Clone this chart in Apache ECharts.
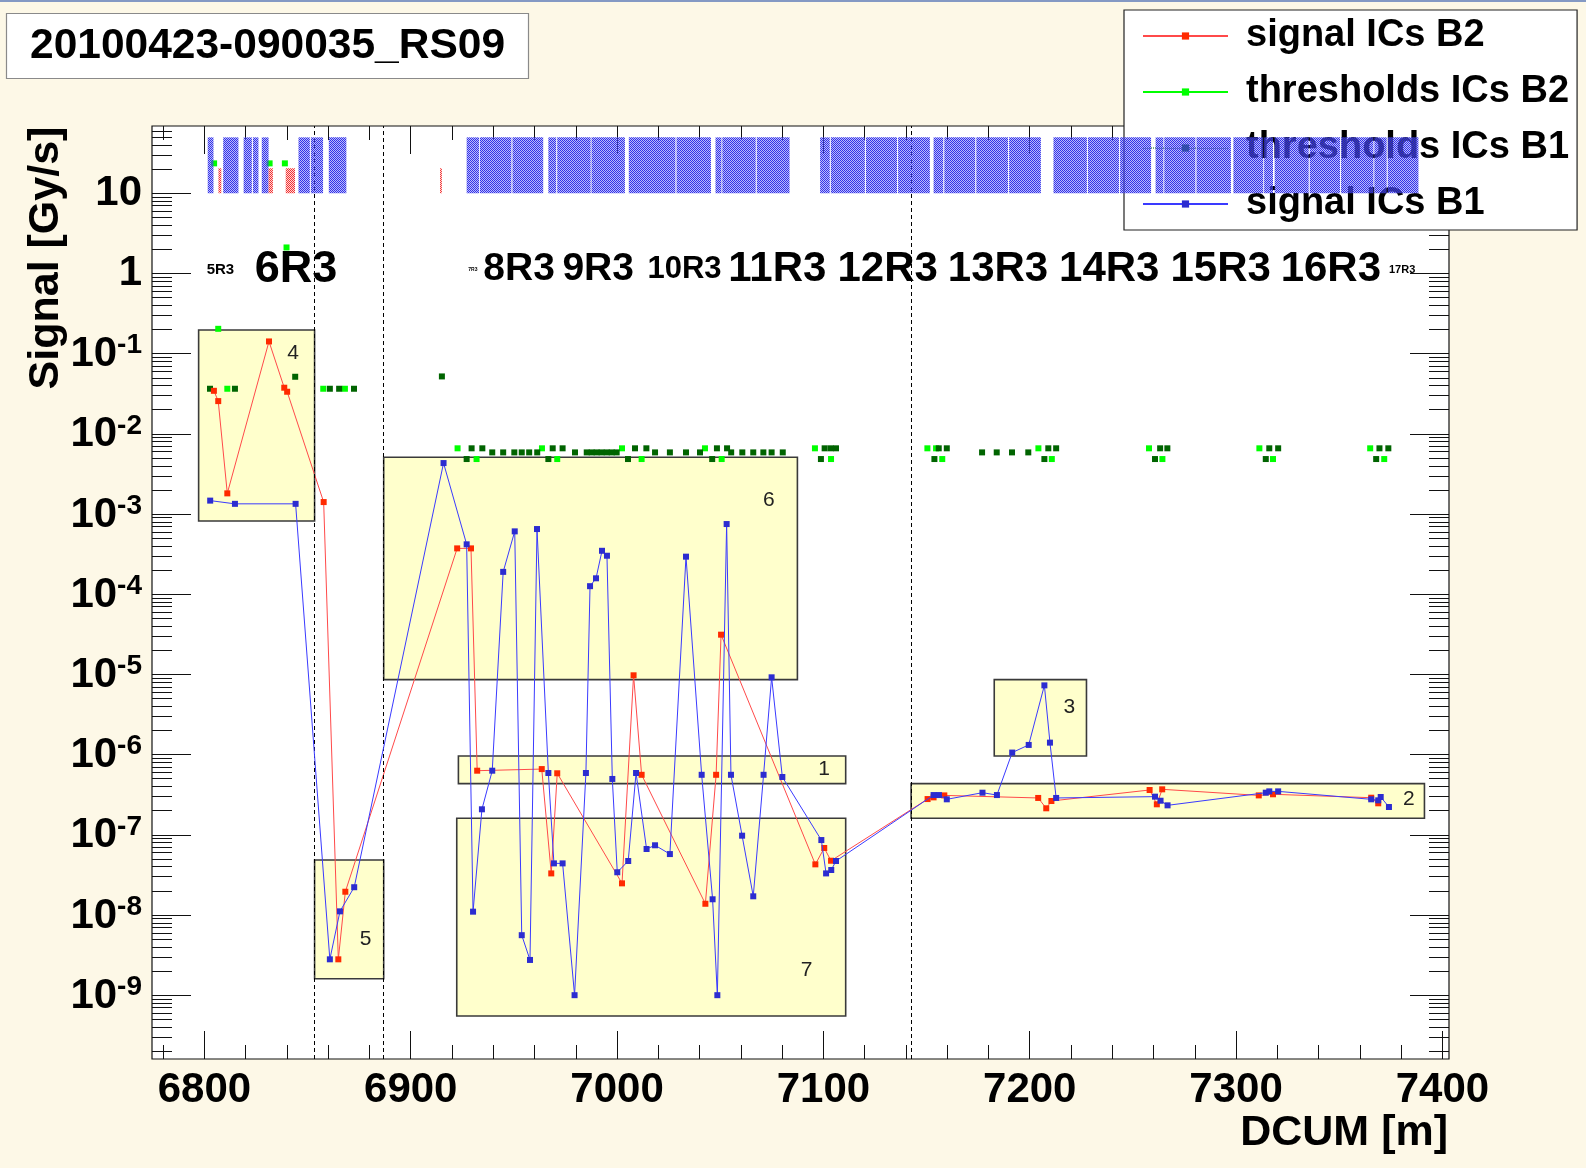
<!DOCTYPE html>
<html>
<head>
<meta charset="utf-8">
<title>20100423-090035_RS09</title>
<script src="https://cdn.jsdelivr.net/npm/echarts@6.0.0/dist/echarts.min.js"></script>
<style>
html, body { margin: 0; padding: 0; background: #fdf8e7; }
#psLine { width: 1586px; height: 1168px; }
</style>
</head>
<body>
<div id="psLine"></div>
<script>
var FONT = '"Liberation Sans", Arial, Helvetica, sans-serif';

// axis ranges and tick labels
var xRange = [6774.6, 7403.2];
var yRange = [1.6e-10, 69];
var xMajorTicks = [6800, 6900, 7000, 7100, 7200, 7300, 7400];
var yMajorTicks = [1e-9, 1e-8, 1e-7, 1e-6, 1e-5, 1e-4, 1e-3, 1e-2, 1e-1, 1, 10];

// signal / threshold values [DCUM m, Gy/s]
var signalB2 = [
  [6804.6, 3.44e-2], [6806.7, 2.56e-2], [6811.1, 1.81e-3], [6831.3, 1.42e-1], [6838.7, 3.76e-2],
  [6840.1, 3.35e-2], [6857.8, 1.41e-3], [6864.9, 2.8e-9], [6868.3, 1.95e-8], [6922.5, 3.73e-4],
  [6929.2, 3.73e-4], [6932.2, 6.3e-7], [6963.5, 6.6e-7], [6968.1, 3.3e-8], [6971.0, 5.85e-7],
  [7002.4, 2.48e-8], [7008.0, 9.75e-6], [7011.9, 5.6e-7], [7042.8, 1.38e-8], [7048.0, 5.6e-7],
  [7050.4, 3.13e-5], [7096.1, 4.28e-8], [7100.4, 6.84e-8], [7103.7, 4.75e-8], [7150.5, 2.79e-7],
  [7153.4, 2.93e-7], [7158.6, 3.1e-7], [7204.1, 2.88e-7], [7208.0, 2.14e-7], [7210.5, 2.64e-7],
  [7258.1, 3.62e-7], [7261.6, 2.4e-7], [7264.2, 3.69e-7], [7311.0, 3.1e-7], [7317.9, 3.2e-7],
  [7365.5, 2.9e-7], [7368.9, 2.47e-7]
];
var signalB1 = [
  [6802.8, 1.47e-3], [6814.8, 1.34e-3], [6844.2, 1.34e-3], [6860.8, 2.8e-9], [6865.7, 1.11e-8],
  [6872.6, 2.22e-8], [6915.9, 4.32e-3], [6927.1, 4.19e-4], [6930.2, 1.1e-8], [6934.5, 2.08e-7],
  [6939.5, 6.3e-7], [6944.8, 1.9e-4], [6950.4, 6.08e-4], [6953.8, 5.6e-9], [6957.8, 2.75e-9],
  [6961.2, 6.5e-4], [6966.7, 5.9e-7], [6969.4, 4.4e-8], [6973.6, 4.4e-8], [6979.4, 1.0e-9],
  [6984.9, 5.9e-7], [6986.9, 1.26e-4], [6989.8, 1.58e-4], [6992.7, 3.48e-4], [6995.1, 3.02e-4],
  [6997.7, 4.97e-7], [7000.1, 3.41e-8], [7005.4, 4.71e-8], [7009.2, 5.9e-7], [7014.3, 6.65e-8],
  [7018.4, 7.4e-8], [7025.6, 5.75e-8], [7033.4, 2.94e-4], [7041.0, 5.6e-7], [7046.3, 1.57e-8],
  [7048.6, 1.0e-9], [7053.1, 7.5e-4], [7055.2, 5.6e-7], [7060.6, 9.75e-8], [7066.0, 1.71e-8],
  [7071.0, 5.6e-7], [7074.9, 9.2e-6], [7080.1, 5.26e-7], [7099.0, 8.6e-8], [7101.3, 3.3e-8],
  [7103.8, 3.64e-8], [7106.1, 4.71e-8], [7153.4, 3.13e-7], [7156.0, 3.13e-7], [7159.8, 2.77e-7],
  [7177.1, 3.35e-7], [7184.1, 3.13e-7], [7191.5, 1.06e-6], [7199.5, 1.32e-6], [7207.1, 7.3e-6],
  [7209.8, 1.41e-6], [7212.8, 2.88e-7], [7260.7, 2.99e-7], [7263.4, 2.66e-7], [7266.8, 2.33e-7],
  [7314.4, 3.35e-7], [7316.1, 3.48e-7], [7320.4, 3.48e-7], [7365.5, 2.77e-7], [7368.9, 2.69e-7],
  [7370.1, 2.96e-7], [7374.1, 2.22e-7]
];
var thresholdsB2 = [
  [6804.7, 23.6], [6806.7, 0.204], [6811.1, 0.0365], [6831.6, 23.6], [6839.0, 23.6], [6839.8, 2.11],
  [6857.6, 0.0365], [6868.1, 0.0365], [6922.7, 6.6e-3], [6931.9, 4.85e-3], [6963.6, 6.6e-3],
  [6971.0, 4.85e-3], [7002.4, 6.6e-3], [7011.9, 4.85e-3], [7042.6, 6.6e-3], [7050.7, 4.85e-3],
  [7095.9, 6.6e-3], [7103.7, 4.85e-3], [7150.4, 6.6e-3], [7154.6, 6.6e-3], [7157.6, 4.85e-3],
  [7204.2, 6.6e-3], [7210.7, 4.85e-3], [7257.8, 6.6e-3], [7264.3, 4.85e-3], [7311.3, 6.6e-3],
  [7317.9, 4.85e-3], [7365.0, 6.6e-3], [7371.8, 4.85e-3]
];
var thresholdsB1 = [
  [6802.7, 0.0365], [6814.8, 0.0365], [6844.0, 0.0515], [6860.8, 0.0365], [6865.3, 0.0365],
  [6872.5, 0.0365], [6915.1, 0.052], [6927.1, 4.85e-3], [6929.5, 6.6e-3], [6934.7, 6.6e-3],
  [6939.5, 5.87e-3], [6944.8, 5.87e-3], [6950.2, 5.87e-3], [6953.8, 5.87e-3], [6957.4, 5.87e-3],
  [6961.3, 5.87e-3], [6966.7, 4.85e-3], [6968.8, 6.6e-3], [6973.6, 6.6e-3], [6979.6, 5.87e-3],
  [6985.3, 5.87e-3], [6987.7, 5.87e-3], [6990.1, 5.87e-3], [6992.5, 5.87e-3], [6995.0, 5.87e-3],
  [6997.4, 5.87e-3], [6999.8, 5.87e-3], [7005.3, 4.85e-3], [7008.7, 6.6e-3], [7014.2, 6.6e-3],
  [7018.4, 5.87e-3], [7025.6, 5.87e-3], [7033.4, 5.87e-3], [7040.2, 5.87e-3], [7046.1, 4.85e-3],
  [7048.4, 6.6e-3], [7053.3, 6.6e-3], [7055.3, 5.87e-3], [7060.7, 5.87e-3], [7066.0, 5.87e-3],
  [7070.9, 5.87e-3], [7074.9, 5.87e-3], [7080.3, 5.87e-3], [7098.8, 4.85e-3], [7100.6, 6.6e-3],
  [7103.5, 6.6e-3], [7106.1, 6.6e-3], [7153.8, 4.85e-3], [7155.9, 6.6e-3], [7159.8, 6.6e-3],
  [7176.9, 5.87e-3], [7184.0, 5.87e-3], [7191.4, 5.87e-3], [7199.3, 5.87e-3], [7207.1, 4.85e-3],
  [7209.0, 6.6e-3], [7212.8, 6.6e-3], [7260.7, 4.85e-3], [7263.2, 6.6e-3], [7266.7, 6.6e-3],
  [7314.4, 4.85e-3], [7316.1, 6.6e-3], [7320.4, 6.6e-3], [7367.9, 4.85e-3], [7369.5, 6.6e-3],
  [7373.8, 6.6e-3]
];

// hatched element bands at the top [start, end] in m, band heights in Gy/s
var elementsB1 = [
  [6801.6, 6804.4], [6809.1, 6816.5], [6819.0, 6823.0], [6823.5, 6826.2], [6827.8, 6831.1],
  [6845.6, 6851.1], [6851.6, 6857.5], [6860.3, 6868.8],
  [6927.1, 6933.1], [6933.5, 6948.8], [6949.3, 6964.2], [6966.7, 6970.5], [6971.0, 6987.2],
  [6987.6, 7003.8], [7005.7, 7028.3], [7028.8, 7045.5], [7047.7, 7050.6], [7051.0, 7067.2],
  [7067.7, 7083.6], [7098.4, 7103.1], [7103.6, 7120.1], [7120.6, 7135.7], [7136.2, 7151.6],
  [7153.4, 7158.1], [7158.6, 7173.6], [7174.1, 7189.5], [7190.0, 7205.4], [7211.5, 7227.7],
  [7228.2, 7243.3], [7243.8, 7258.8], [7261.0, 7264.8], [7265.2, 7280.3], [7280.8, 7297.5],
  [7298.7, 7313.2], [7313.6, 7317.9], [7318.7, 7335.2], [7335.7, 7350.4], [7350.9, 7366.6],
  [7367.0, 7373.0], [7373.5, 7388.4]
];
var elementsB2 = [[6806.8, 6808.2], [6831.1, 6833.2], [6839.4, 6843.9], [6914.2, 6915.1]];
var bandB1 = [10, 49.8];
var bandB2 = [10, 20.5];

// cell names along the arc
var regionNames = ['5R3', '6R3', '7R3', '8R3', '9R3', '10R3', '11R3', '12R3', '13R3', '14R3', '15R3', '16R3', '17R3'];
var regionX = [6801.1, 6824.4, 6927.9, 6935.2, 6973.5, 7014.7, 7053.9, 7106.8, 7160.3, 7214.2, 7268.2, 7321.6, 7374.1];
var regionLevel = 1.12;

// numbered selection boxes
var boxNames = ['4', '5', '6', '1', '7', '3', '2'];
var boxX = [[6797.2, 6853.4], [6853.4, 6886.9], [6886.9, 7087.4], [6923.1, 7110.8], [6922.3, 7110.8], [7182.8, 7227.5], [7142.5, 7391.3]];
var boxY = [[8.2e-4, 0.197], [1.6e-9, 4.85e-8], [8.6e-6, 5.1e-3], [4.35e-7, 9.6e-7], [5.5e-10, 1.61e-7], [9.6e-7, 8.6e-6], [1.61e-7, 4.35e-7]];
var boxLabelAt = [[6843.0, 0.101], [6878.1, 4.98e-9], [7073.6, 1.47e-3], [7100.3, 6.56e-7], [7091.9, 2.02e-9], [7219.2, 3.95e-6], [7383.7, 2.77e-7]];

// dashed guide lines
var dashedX = [6853.4, 6886.9, 7142.5];
var dashedY = [8.6e-6, 9.6e-7, 4.35e-7, 1.61e-7];

var regionFontSize = {'5R3': 15, '6R3': 45, '7R3': 5, '8R3': 39, '9R3': 39, '10R3': 31, '17R3': 11};

$ready();

function $ready(){
	var chart = echarts.init(document.getElementById('psLine'), null, {renderer: 'canvas'});
	chart.setOption(buildOption());
}

function makeHatch(dark, light){
	var c = document.createElement('canvas');
	c.width = 2; c.height = 2;
	var ctx = c.getContext('2d');
	ctx.fillStyle = dark;
	ctx.fillRect(0, 0, 1, 1);
	ctx.fillRect(1, 1, 1, 1);
	ctx.fillStyle = light;
	ctx.fillRect(1, 0, 1, 1);
	ctx.fillRect(0, 1, 1, 1);
	return {image: c, repeat: 'repeat'};
}

function formatPower(v){
	var e = Math.round(Math.log(v) / Math.LN10);
	if (e === 1) return '{p|10}';
	if (e === 0) return '{p|1}';
	return '{b|10}{s|' + e + '}';
}

function minorLogTicks(){
	var t = [];
	for (var e = -10; e <= 1; e++) {
		for (var k = 2; k <= 9; k++) t.push(k * Math.pow(10, e));
	}
	return t;
}

function minorLinTicks(){
	var t = [];
	for (var v = 6780; v <= 7400; v += 20) t.push(v);
	return t;
}

function xAxisDef(pos, ticks, len, withLabels){
	return {
		type: 'value', position: pos, min: xRange[0], max: xRange[1],
		axisLine: {show: false, onZero: false},
		splitLine: {show: false},
		axisTick: {show: true, inside: true, length: len, customValues: ticks, lineStyle: {color: '#111', width: 1}},
		axisLabel: withLabels ? {
			show: true, customValues: xMajorTicks, margin: 10,
			fontFamily: FONT, fontSize: 42, fontWeight: 'bold', color: '#000',
			formatter: function(v){ return String(Math.round(v)); }
		} : {show: false}
	};
}

function yAxisDef(pos, ticks, len, withLabels){
	return {
		type: 'log', logBase: 10, position: pos, min: yRange[0], max: yRange[1],
		axisLine: {show: false, onZero: false},
		splitLine: {show: false},
		axisTick: {show: true, inside: true, length: len, customValues: ticks, lineStyle: {color: '#111', width: 1}},
		axisLabel: withLabels ? {
			show: true, customValues: yMajorTicks, margin: 10,
			formatter: formatPower,
			rich: {
				p: {fontFamily: FONT, fontSize: 42, fontWeight: 'bold', color: '#000', lineHeight: 44},
				b: {fontFamily: FONT, fontSize: 42, fontWeight: 'bold', color: '#000', lineHeight: 44, verticalAlign: 'bottom'},
				s: {fontFamily: FONT, fontSize: 28, fontWeight: 'bold', color: '#000', lineHeight: 28, verticalAlign: 'top'}
			}
		} : {show: false}
	};
}

function renderBand(fill){
	return function(params, api){
		var p0 = api.coord([api.value(0), api.value(3)]);
		var p1 = api.coord([api.value(1), api.value(2)]);
		return {type: 'rect', shape: {x: p0[0], y: p0[1], width: p1[0] - p0[0], height: p1[1] - p0[1]}, style: {fill: fill}};
	};
}

function renderBox(params, api){
	var i = params.dataIndex;
	var p0 = api.coord([api.value(0), api.value(3)]);
	var p1 = api.coord([api.value(1), api.value(2)]);
	var lab = api.coord([api.value(4), api.value(5)]);
	return {type: 'group', children: [
		{type: 'rect', shape: {x: p0[0], y: p0[1], width: p1[0] - p0[0], height: p1[1] - p0[1]},
		 style: {fill: '#ffffcc', stroke: '#3a3a3a', lineWidth: 1.6}},
		{type: 'text', x: lab[0], y: lab[1],
		 style: {text: boxNames[i], fontFamily: FONT, fontSize: 21, fill: '#222', align: 'center', verticalAlign: 'middle'}}
	]};
}

function renderRegion(params, api){
	var name = regionNames[params.dataIndex];
	var p = api.coord([api.value(0), api.value(1)]);
	var size = regionFontSize[name] || 42;
	return {type: 'text', x: p[0], y: p[1],
		style: {text: name, fontFamily: FONT, fontSize: size, fontWeight: 'bold', fill: '#000', align: 'left', verticalAlign: 'middle'}};
}

function buildOption(){
	var bandDataB1 = elementsB1.map(function(e){ return [e[0], e[1], bandB1[0], bandB1[1]]; });
	var bandDataB2 = elementsB2.map(function(e){ return [e[0], e[1], bandB2[0], bandB2[1]]; });
	var boxData = boxX.map(function(x, i){ return [x[0], x[1], boxY[i][0], boxY[i][1], boxLabelAt[i][0], boxLabelAt[i][1]]; });
	var regionData = regionX.map(function(x){ return [x, regionLevel]; });
	var guideLines = dashedX.map(function(v){ return {xAxis: v}; })
		.concat(dashedY.map(function(v){ return {yAxis: v}; }));

	return {
		animation: false,
		backgroundColor: '#fdf8e7',
		title: {
			text: '20100423-090035_RS09', left: 6, top: 13,
			padding: [10, 24],
			backgroundColor: '#fff', borderColor: '#8a8a8a', borderWidth: 1.2,
			textStyle: {fontFamily: FONT, fontSize: 42.5, fontWeight: 'bold', color: '#000', lineHeight: 46}
		},
		legend: {
			orient: 'vertical', left: 1124, top: 10, z: 1,
			selectedMode: false,
			padding: [6, 8, 6, 18],
			itemWidth: 85, itemHeight: 9, itemGap: 16,
			backgroundColor: '#fff', borderColor: '#222', borderWidth: 1.2,
			textStyle: {fontFamily: FONT, fontSize: 38, fontWeight: 'bold', color: '#000', lineHeight: 40, padding: [0, 0, 0, 13]},
			data: [
				{name: 'signal ICs B2'},
				{name: 'thresholds ICs B2', lineStyle: {opacity: 1, width: 2}},
				{name: 'thresholds ICs B1', lineStyle: {opacity: 1, width: 1, type: 'dotted'}},
				{name: 'signal ICs B1'}
			]
		},
		graphic: [
			{type: 'rect', left: 0, top: 0, shape: {width: 1586, height: 2}, style: {fill: '#8499c4'}},
			{type: 'text', x: 46, y: 258, rotation: Math.PI / 2,
			 style: {text: 'Signal [Gy/s]', fontFamily: FONT, fontSize: 43, fontWeight: 'bold', fill: '#000', align: 'center', verticalAlign: 'middle'}},
			{type: 'text', x: 1448, y: 1133,
			 style: {text: 'DCUM [m]', fontFamily: FONT, fontSize: 43, fontWeight: 'bold', fill: '#000', align: 'right', verticalAlign: 'middle'}}
		],
		grid: {
			left: 152, top: 126, width: 1297, height: 933,
			show: true, backgroundColor: '#fff', borderColor: '#111', borderWidth: 1.2
		},
		xAxis: [
			xAxisDef('bottom', xMajorTicks, 28, true),
			xAxisDef('bottom', minorLinTicks(), 14, false),
			xAxisDef('top', xMajorTicks, 28, false),
			xAxisDef('top', minorLinTicks(), 14, false)
		],
		yAxis: [
			yAxisDef('left', yMajorTicks, 39, true),
			yAxisDef('left', minorLogTicks(), 20, false),
			yAxisDef('right', yMajorTicks, 39, false),
			yAxisDef('right', minorLogTicks(), 20, false)
		],
		series: [
			{name: 'boxes', type: 'custom', z: 1, silent: true, renderItem: renderBox,
			 encode: {x: [0, 1, 4], y: [2, 3, 5]}, data: boxData},
			{name: 'guides', type: 'line', z: 2, silent: true, data: [],
			 markLine: {silent: true, symbol: ['none', 'none'], label: {show: false},
			  lineStyle: {color: '#000', width: 1, type: [4, 3]}, data: guideLines}},
			{name: 'regions', type: 'custom', z: 3, silent: true, renderItem: renderRegion,
			 encode: {x: 0, y: 1}, data: regionData},
			{name: 'thresholds ICs B2', type: 'line', z: 3, data: thresholdsB2,
			 symbol: 'rect', symbolSize: 6, showSymbol: true,
			 lineStyle: {opacity: 0, width: 0, color: '#00ff00'}, itemStyle: {color: '#00ff00'}},
			{name: 'thresholds ICs B1', type: 'line', z: 3, data: thresholdsB1,
			 symbol: 'rect', symbolSize: 6, showSymbol: true,
			 lineStyle: {opacity: 0, width: 0, color: '#006400'}, itemStyle: {color: '#006400'}},
			{name: 'signal ICs B2', type: 'line', z: 4, data: signalB2,
			 symbol: 'rect', symbolSize: 6, showSymbol: true,
			 lineStyle: {width: 1, color: '#ff4a4a'}, itemStyle: {color: '#ff2a00'}},
			{name: 'signal ICs B1', type: 'line', z: 5, data: signalB1,
			 symbol: 'rect', symbolSize: 6, showSymbol: true,
			 lineStyle: {width: 1, color: '#3a3aff'}, itemStyle: {color: '#2c2cd0'}},
			{name: 'elements B1', type: 'custom', z: 6, silent: true,
			 renderItem: renderBand(makeHatch('rgba(40,40,232,0.95)', 'rgba(120,120,245,0.5)')),
			 encode: {x: [0, 1], y: [2, 3]}, data: bandDataB1},
			{name: 'elements B2', type: 'custom', z: 6, silent: true,
			 renderItem: renderBand(makeHatch('rgba(240,40,40,0.95)', 'rgba(255,150,150,0.4)')),
			 encode: {x: [0, 1], y: [2, 3]}, data: bandDataB2}
		]
	};
}
</script>
</body>
</html>
